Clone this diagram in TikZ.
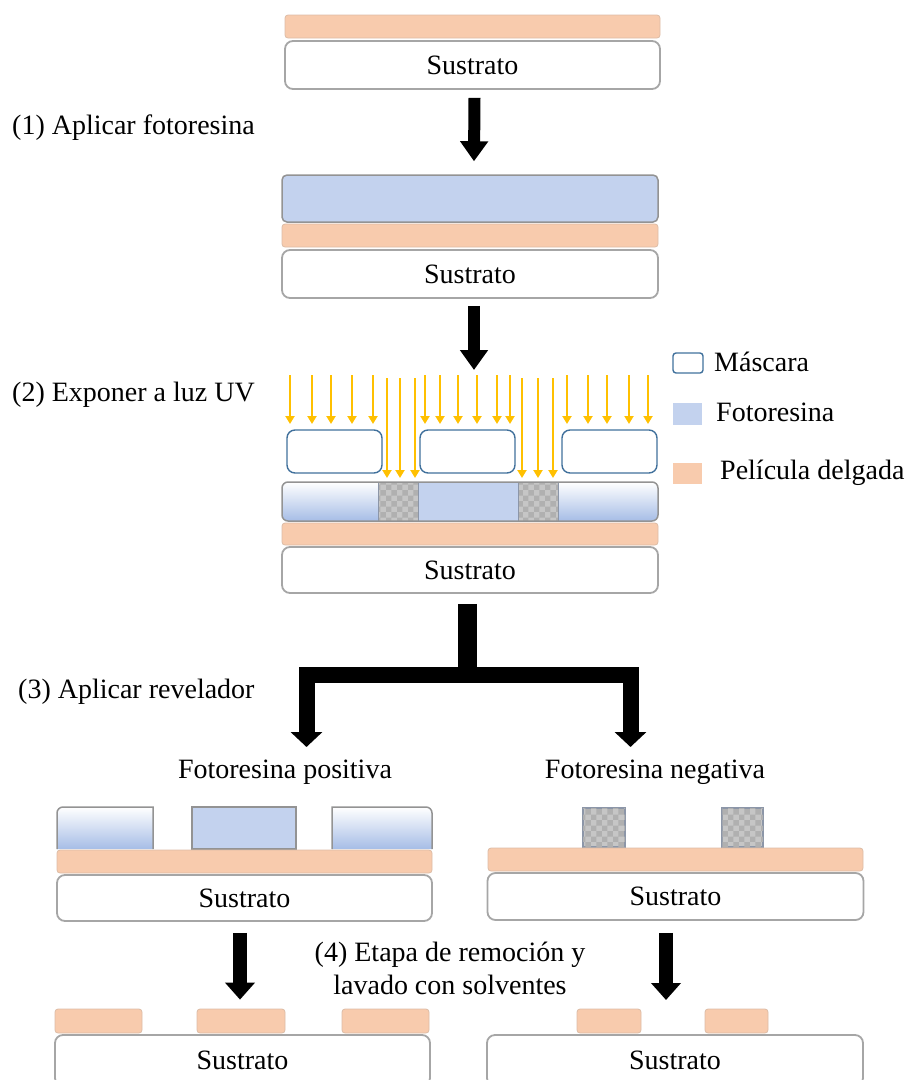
\documentclass[tikz,border=0pt]{standalone}
\usepackage{fontspec}
\setmainfont{Liberation Serif}
\usetikzlibrary{arrows.meta,patterns}

\definecolor{filmorange}{HTML}{F8CBAD}
\definecolor{filmedge}{HTML}{DCBCA6}
\definecolor{resistblue}{HTML}{C3D2EE}
\definecolor{resistdeep}{HTML}{A6BDE6}
\definecolor{resistedge}{HTML}{8C96A8}
\definecolor{maskedge}{HTML}{41719C}
\definecolor{uvgold}{HTML}{FFC000}
\definecolor{subedge}{HTML}{A6A6A6}

\tikzset{
  substrate/.style={draw=subedge, line width=1.8pt, fill=white, rounded corners=8pt,
    minimum height=47pt, inner sep=0pt},
  film/.style={draw=filmedge, line width=0.8pt, fill=filmorange, rounded corners=3pt,
    minimum height=23pt, inner sep=0pt},
  resist/.style={draw=gray!85, line width=1.5pt, fill=resistblue, rounded corners=5pt,
    inner sep=0pt},
  mask/.style={draw=maskedge, line width=1.4pt, fill=white, rounded corners=8pt,
    minimum width=95pt, minimum height=43pt, inner sep=0pt},
  exposed/.style={fill=gray!45, postaction={pattern=checkerboard, pattern color=gray!62}},
  uv/.style={uvgold, line width=2.4pt, -{Triangle[width=9pt,length=8pt]}},
  bigarrow/.style={line width=12pt, -{Triangle[width=27pt,length=20pt]}},
  steplabel/.style={anchor=west, inner sep=0pt},
  legendtext/.style={anchor=west, inner sep=0pt}
}

\begin{document}
\begin{tikzpicture}[x=1pt, y=-1pt, font=\fontsize{28}{33}\selectfont]
  \useasboundingbox (0,0) rectangle (914,1080);

  % Starting stack
  \node[film, minimum width=375pt] (film0) at (472.5,26.5) {};
  \node[substrate, minimum width=375pt, minimum height=48pt] (sub0) at (472.5,65) {Sustrato};

  % Step (1)
  \node[steplabel] (lbl1) at (12,128) {(1) Aplicar fotoresina};
  \node[resist, minimum width=376pt, minimum height=47pt] (res1) at (470,198.5) {};
  \node[film, minimum width=376pt] (film1) at (470,235.5) {};
  \node[substrate, minimum width=376pt, minimum height=48pt] (sub1) at (470,274) {Sustrato};
  \draw[bigarrow] ([xshift=2pt,yshift=-8pt]sub0.south) -- ([xshift=4pt,yshift=13pt]res1.north);

  % Step (2)
  \node[steplabel] (lbl2) at (12,395) {(2) Exponer a luz UV};
  \coordinate (expo) at (474,370);
  \draw[bigarrow] ([xshift=4pt,yshift=-7pt]sub1.south) -- (expo);

  % UV light
  \foreach \x in {290,312,331,352,373,425,440,458,477,497,510,567,588,607,629,648}
    \draw[uv] (\x,375) -- (\x,424);
  \foreach \x in {387,400,415,522,538,553}
    \draw[uv] (\x,378) -- (\x,478);

  % Masks
  \node[mask] (mask1) at (334.5,451.5) {};
  \node[mask] (mask2) at (467.5,451.5) {};
  \node[mask] (mask3) at (609.5,451.5) {};

  % Exposed resist
  \begin{scope}
    \clip[rounded corners=6pt] (282,482) rectangle (658,521);
    \shade[top color=white, bottom color=resistdeep] (282,482) rectangle (378,521);
    \fill[exposed] (378,482) rectangle (418,521);
    \fill[resistblue] (418,482) rectangle (518,521);
    \fill[exposed] (518,482) rectangle (558,521);
    \shade[top color=white, bottom color=resistdeep] (558,482) rectangle (658,521);
  \end{scope}
  \foreach \x in {378,418,518,558}
    \draw[resistedge, line width=0.8pt] (\x,482) -- (\x,521);
  \draw[gray!85, line width=1.5pt, rounded corners=6pt] (282,482) rectangle (658,521);
  \node[film, minimum width=376pt, minimum height=22pt] (film2) at (470,534) {};
  \node[substrate, minimum width=376pt, minimum height=46pt] (sub2) at (470,570) {Sustrato};

  % Legend
  \node[draw=maskedge, line width=1.4pt, rounded corners=3pt, minimum width=30pt,
    minimum height=20pt, inner sep=0pt] (keymask) at (688,363) {};
  \node[legendtext] (txtmask) at (714,362) {Máscara};
  \node[fill=resistblue, minimum width=29pt, minimum height=22pt, inner sep=0pt] (keyres) at (687.5,414) {};
  \node[legendtext] (txtres) at (716,412) {Fotoresina};
  \node[fill=filmorange, minimum width=29pt, minimum height=21pt, inner sep=0pt] (keyfilm) at (687.5,473.5) {};
  \node[legendtext] (txtfilm) at (720,473) {Película delgada};

  % Step (3)
  \node[steplabel] (lbl3) at (18,692) {(3) Aplicar revelador};
  \node (pos) at (285,772) {Fotoresina positiva};
  \node (neg) at (655,772) {Fotoresina negativa};
  \coordinate (split) at (467.5,675);
  \coordinate (tippos) at (306.5,747);
  \coordinate (tipneg) at (630.5,747);
  \draw[line width=19pt] ([xshift=-2.5pt,yshift=-10pt]sub2.south) -- (split);
  \draw[line width=16pt, line join=miter,
    {Triangle[width=31pt,length=15pt]}-{Triangle[width=31pt,length=15pt]}]
    (tippos) -- (306.5,675) -- (630.5,675) -- (tipneg);

  % Positive resist result
  \shade[top color=white, bottom color=resistdeep, draw=gray!85, line width=1.5pt]
    (57,849) -- (57,813) arc[start angle=180, end angle=270, radius=6] -- (153,807) -- (153,849);
  \node[draw=gray!85, line width=1.2pt, fill=resistblue, minimum width=104pt,
    minimum height=42pt, inner sep=0pt] (blk2) at (244,828) {};
  \shade[top color=white, bottom color=resistdeep, draw=gray!85, line width=1.5pt]
    (332,849) -- (332,807) -- (426,807) arc[start angle=270, end angle=360, radius=6] -- (432,849);
  \node[film, minimum width=375pt] (film3l) at (244.5,861.5) {};
  \node[substrate, minimum width=375pt, minimum height=46pt] (sub3l) at (244.5,898) {Sustrato};

  % Negative resist result
  \node[draw=resistedge, line width=1.2pt, exposed, minimum width=42pt, minimum height=39pt,
    inner sep=0pt] (blk4) at (604,827.5) {};
  \node[draw=resistedge, line width=1.2pt, exposed, minimum width=41pt, minimum height=39pt,
    inner sep=0pt] (blk5) at (742.5,827.5) {};
  \node[film, minimum width=375pt] (film3r) at (675.5,859.5) {};
  \node[substrate, minimum width=376pt, minimum height=47pt] (sub3r) at (675.5,896.5) {Sustrato};

  % Final result
  \node[film, minimum width=87pt, minimum height=24pt] (pad1) at (98.5,1021) {};
  \node[film, minimum width=88pt, minimum height=24pt] (pad2) at (241,1021) {};
  \node[film, minimum width=87pt, minimum height=24pt] (pad3) at (385.5,1021) {};
  \node[substrate, minimum width=375pt, minimum height=51pt] (sub4l) at (242.5,1060.5) {Sustrato};
  \node[film, minimum width=64pt, minimum height=24pt] (pad4) at (609,1021) {};
  \node[film, minimum width=63pt, minimum height=24pt] (pad5) at (736.5,1021) {};
  \node[substrate, minimum width=376pt, minimum height=51pt] (sub4r) at (675,1060.5) {Sustrato};
  \coordinate (tipfinal) at (666,1000);

  % Step (4)
  \node[align=center] (lbl4) at (450,968) {(4) Etapa de remoción y\\lavado con solventes};
  \draw[line width=14pt, -{Triangle[width=29pt,length=17pt]}]
    ([xshift=-4.5pt,yshift=-11pt]sub3l.south) -- ([xshift=-1pt,yshift=9pt]pad2.north);
  \draw[line width=14pt, -{Triangle[width=29pt,length=17pt]}]
    ([xshift=-9.5pt,yshift=-12pt]sub3r.south) -- (tipfinal);
\end{tikzpicture}
\end{document}
